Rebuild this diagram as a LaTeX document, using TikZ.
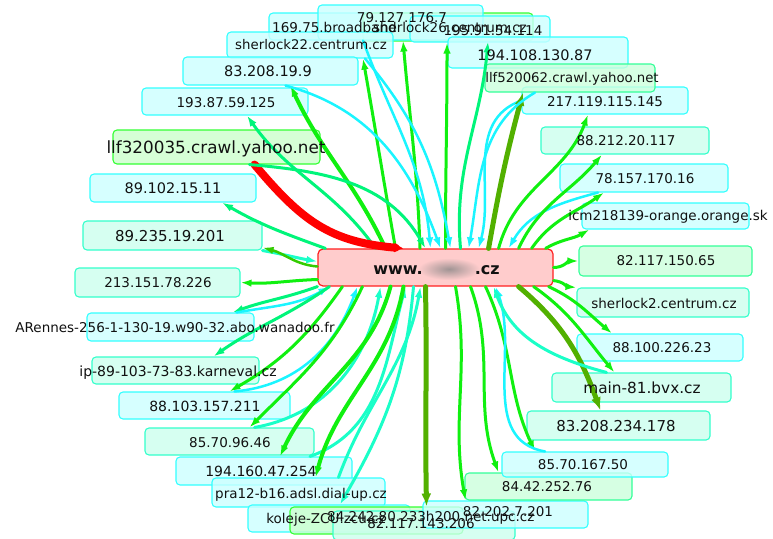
\documentclass[tikz,border=0pt]{standalone}
\usepackage{fontspec}
\setmainfont{DejaVu Sans}
\usetikzlibrary{arrows.meta,fit}
\definecolor{cyB}{HTML}{33FFFF}
\definecolor{cyF}{HTML}{CCFFFF}
\definecolor{aqB}{HTML}{33FFCC}
\definecolor{aqF}{HTML}{CCFFEE}
\definecolor{grB}{HTML}{33FF33}
\definecolor{grF}{HTML}{CCFFCC}
\definecolor{gaB}{HTML}{33FF99}
\definecolor{gaF}{HTML}{CCFFDD}
\definecolor{rdB}{HTML}{FF2020}
\definecolor{rdF}{HTML}{FFCCCC}
\definecolor{blurC}{HTML}{A09494}
\definecolor{txt}{HTML}{111111}
\definecolor{eG}{HTML}{10F010}
\definecolor{eS}{HTML}{00F57A}
\definecolor{eA}{HTML}{1AFFC8}
\definecolor{eC}{HTML}{1AF5FF}
\definecolor{eO}{HTML}{52B000}
\definecolor{eO2}{HTML}{33CC00}
\newcommand{\fsz}[1]{\fontsize{#1}{#1}\selectfont}
\begin{document}
\begin{tikzpicture}[x=1pt,y=-1pt,
  bx/.style={rounded corners=4pt, line width=1.1pt, inner sep=0pt, fill opacity=0.8},
  bcy/.style={bx, draw=cyB, fill=cyF},
  baq/.style={bx, draw=aqB, fill=aqF},
  bgr/.style={bx, draw=grB, fill=grF},
  bga/.style={bx, draw=gaB, fill=gaF},
  lbl/.style={inner sep=0pt, text=txt, anchor=base},
  ed/.style={line width=3pt, line cap=round, -{Latex[length=11pt,width=7.5pt]}},
  eg/.style={ed, draw=eG},
  es/.style={ed, draw=eS},
  ea/.style={ed, draw=eA},
  ec/.style={ed, draw=eC, line width=2.5pt},
  eo/.style={ed, draw=eO, line width=5pt, -{Latex[length=13pt,width=10pt]}},
  er/.style={ed, draw=red, line width=8pt, -{Latex[length=9pt,width=10pt]}}
]
\useasboundingbox (0,0) rectangle (773,538);
\fill[white] (0,0) rectangle (773,538);

% outer boxes
\node[bcy, fit={(269,13) (437,40)}] (b169) {};
\node[bgr, fit={(363,13) (533,41)}] (bsh26) {};
\node[bcy, fit={(318,5) (483,40)}] (b79) {};
\node[bcy, fit={(410,16) (550,42)}] (b195) {};
\node[bcy, fit={(448,37) (628,68)}] (b194) {};
\node[bcy, fit={(227,32) (393,58)}] (bsh22) {};
\node[bcy, fit={(183,57) (358,85)}] (b83) {};
\node[bcy, fit={(142,88) (308,115)}] (b193) {};
\node[bgr, fit={(113,130) (320,164)}] (bllf3) {};
\node[bcy, fit={(90,174) (256,202)}] (b89a) {};
\node[baq, fit={(83,221) (262,250)}] (b89b) {};
\node[baq, fit={(75,268) (240,297)}] (b213) {};
\node[bcy, fit={(87,313) (254,341)}] (bAR) {};
\node[baq, fit={(92,357) (259,384)}] (bip) {};
\node[bcy, fit={(119,392) (290,419)}] (b88103) {};
\node[baq, fit={(145,428) (314,455)}] (b8570) {};
\node[bcy, fit={(176,457) (352,485)}] (b194160) {};
\node[bcy, fit={(212,478) (385,507)}] (bpra) {};
\node[bcy, fit={(248,505) (410,532)}] (bkol) {};
\node[bgr, fit={(290,507) (463,534)}] (b84242) {};
\node[baq, fit={(333,511) (515,540)}] (b82117) {};
\node[bcy, fit={(423,501) (588,528)}] (b82202) {};
\node[bga, fit={(465,473) (632,500)}] (b8442) {};
\node[bcy, fit={(502,452) (668,477)}] (b8570b) {};
\node[baq, fit={(527,411) (710,440)}] (b83234) {};
\node[baq, fit={(552,373) (731,402)}] (bmain) {};
\node[bcy, fit={(577,334) (743,361)}] (b88100) {};
\node[baq, fit={(577,288) (749,317)}] (bsh2) {};
\node[bga, fit={(579,246) (752,276)}] (b82150) {};
\node[bcy, fit={(582,203) (749,229)}] (bicm) {};
\node[bcy, fit={(560,164) (728,192)}] (b78) {};
\node[baq, fit={(541,127) (709,154)}] (b88212) {};
\node[bcy, fit={(522,87) (688,114)}] (b217) {};
\node[bga, fit={(485,64) (655,92)}] (bllf5) {};

% centre
\node[rounded corners=5pt, line width=1.2pt, inner sep=0pt, draw=rdB, fill=rdF,
      fit={(318,249) (553,286)}] (bc) {};
\node[shading=radial, inner color=blurC, outer color=rdF, inner sep=0pt,
      minimum width=62pt, minimum height=22pt] (blur) at (449,269) {};

% edges: top
\draw[eg] ([xshift=-15.5pt]bc.north) to[out=92,in=-85] ([xshift=2.5pt]b79.south);
\draw[eg] ([xshift=10pt]bc.north) to[out=90,in=-90] ([xshift=-33pt]b195.south);
\draw[es] ([xshift=25pt]bc.north) to[out=95,in=-95] ([xshift=40pt]bsh26.south);
\draw[eg] ([xshift=-40pt]bc.north) to[out=100,in=-80] ([xshift=53pt]bsh22.south);
\draw[eg, line width=4pt] ([xshift=-50pt]bc.north) to[out=115,in=-65] ([xshift=20pt]b83.south);
\draw[ec] ([xshift=15pt]b83.south) to[out=-15,in=110] ([xshift=5pt]bc.north);
\draw[es] ([xshift=-60pt]bc.north) to[out=125,in=-55] ([xshift=22pt]b193.south);
\draw[er] ([xshift=38pt]bllf3.south) to[out=-50,in=175,looseness=1.1] ([xshift=-32pt]bc.north);
\draw[es] ([xshift=33pt]bllf3.south) to[out=-5,in=120] ([xshift=-10pt]bc.north);
\draw[ec] ([xshift=55pt]bsh22.south) to[out=-50,in=100] ([xshift=15pt]bc.north);
\draw[ec] ([xshift=10pt]b169.south) to[out=-70,in=95] ([xshift=-5pt]bc.north);
% left
\draw[es] ([xshift=8pt]bc.north west) to[out=160,in=-30] ([xshift=49pt]b89a.south);
\draw[ea] (b89b.south east) to[out=-10,in=170] ([yshift=6pt]bc.west);
\draw[ed, draw=eO2, line width=2.5pt] ([yshift=1pt]bc.west) to[out=175,in=-15] ([yshift=3pt]b89b.south east);
\draw[eg] ([yshift=-12pt]bc.west) to[out=182,in=-3] (b213.east);
\draw[es] (bc.south west) to[out=200,in=20] ([xshift=-22pt]bAR.north east);
\draw[ec] ([xshift=-18pt]bAR.north east) to[out=10,in=-150] ([xshift=12pt]bc.south west);
\draw[es] ([xshift=12pt]bc.south west) to[out=215,in=35] ([xshift=38pt]bip.north);
\draw[eg] ([xshift=25pt]bc.south west) to[out=235,in=30] ([xshift=25pt]b88103.north);
\draw[ec] ([xshift=30pt]b88103.north) to[out=5,in=-110] ([xshift=40pt]bc.south west);
\draw[eg] ([xshift=45pt]bc.south west) to[out=245,in=45] ([xshift=20pt]b8570.north);
\draw[ea] ([xshift=25pt]b8570.north) to[out=10,in=-100] ([xshift=-55pt]bc.south);
\draw[eg, line width=4pt] ([xshift=-45pt]bc.south) to[out=255,in=65] ([xshift=16pt]b194160.north);
\draw[ea] ([xshift=46pt]b194160.north) to[out=20,in=-105] ([xshift=-30pt]bc.south);
\draw[eg, line width=4pt] ([xshift=-32pt]bc.south) to[out=260,in=75] ([xshift=17pt]bpra.north);
\draw[ea] ([xshift=-22pt]bc.south) to[out=265,in=60] ([xshift=11pt]bkol.north);
\draw[ea] ([xshift=40pt]bpra.north) to[out=70,in=-100] ([xshift=-15pt]bc.south);
% bottom
\draw[eo] ([xshift=-10pt]bc.south) to[out=-89,in=91] ([xshift=50pt]b84242.north);
\draw[eg] ([xshift=20pt]bc.south) to[out=-80,in=100] ([xshift=-40pt]b82202.north);
\draw[eg] ([xshift=35pt]bc.south) to[out=-70,in=110] ([xshift=-50pt]b8442.north);
\draw[eg] ([xshift=50pt]bc.south) to[out=-65,in=115] ([xshift=-50pt]b8570b.north);
\draw[ec] ([xshift=-40pt]b8570b.north) to[out=170,in=-70] ([xshift=60pt]bc.south);
% right
\draw[eo] ([xshift=-35pt]bc.south east) to[out=-40,in=110] ([xshift=-18pt]b83234.north);
\draw[eg] ([xshift=-20pt]bc.south east) to[out=-35,in=130] ([xshift=-27pt]bmain.north);
\draw[ea] ([xshift=-35pt]bmain.north) to[out=165,in=-70] ([xshift=-60pt]bc.south east);
\draw[eg] ([xshift=-5pt]bc.south east) to[out=-25,in=140] ([xshift=-48pt]b88100.north);
\draw[eg] ([yshift=6pt]bc.south east) to[out=-5,in=175] (bsh2.north west);
\draw[eg] (bc.east) to[out=0,in=180] (b82150.west);
\draw[eg] ([xshift=-8pt]bc.north east) to[out=30,in=210] ([xshift=8pt]bicm.south west);
\draw[eg] ([xshift=-22pt]bc.north east) to[out=55,in=215] ([xshift=-40pt]b78.south);
\draw[ec] ([xshift=-46pt]b78.south) to[out=195,in=60] ([xshift=-45pt]bc.north east);
\draw[eg] ([xshift=-35pt]bc.north east) to[out=65,in=230] ([xshift=-23pt]b88212.south);
\draw[eg] ([xshift=-55pt]bc.north east) to[out=75,in=250] ([xshift=-17pt]b217.south);
\draw[ec] (b217.west) to[out=200,in=75] ([xshift=-75pt]bc.north east);
\draw[eo] ([xshift=-65pt]bc.north east) to[out=80,in=255] ([xshift=-47pt]bllf5.south);
\draw[ec] ([xshift=-35pt]bllf5.south) to[out=210,in=80] ([xshift=-85pt]bc.north east);

% labels
\node[lbl, font=\fsz{13.5}] (t79) at (402,23) {79.127.176.7};
\node[lbl, font=\fsz{13.5}, anchor=base west] (t169) at (272,32) {169.75.broadband};
\node[lbl, font=\fsz{13.5}, anchor=base east] (tsh26) at (527,32) {sherlock26.centrum.cz};
\node[lbl, font=\fsz{13.5}] (t195) at (493,35) {195.91.54.114};
\node[lbl, font=\fsz{14.5}] (t194) at (535,60) {194.108.130.87};
\node[lbl, font=\fsz{13.3}] (tsh22) at (311,49) {sherlock22.centrum.cz};
\node[lbl, font=\fsz{14.5}] (t83) at (268,76) {83.208.19.9};
\node[lbl, font=\fsz{13.5}] (t193) at (226,107) {193.87.59.125};
\node[lbl, font=\fsz{16.8}] (tllf3) at (216,153) {llf320035.crawl.yahoo.net};
\node[lbl, font=\fsz{14.5}] (t89a) at (173,193) {89.102.15.11};
\node[lbl, font=\fsz{15}] (t89b) at (170,241.5) {89.235.19.201};
\node[lbl, font=\fsz{13.5}] (t213) at (158,287) {213.151.78.226};
\node[lbl, font=\fsz{13.5}] (tAR) at (175,332) {ARennes-256-1-130-19.w90-32.abo.wanadoo.fr};
\node[lbl, font=\fsz{14}] (tip) at (178,376) {ip-89-103-73-83.karneval.cz};
\node[lbl, font=\fsz{14}] (t88103) at (205,411) {88.103.157.211};
\node[lbl, font=\fsz{13.5}] (t8570) at (230,447) {85.70.96.46};
\node[lbl, font=\fsz{14}] (t194160) at (261,476) {194.160.47.254};
\node[lbl, font=\fsz{13.5}] (tpra) at (301,498) {pra12-b16.adsl.dial-up.cz};
\node[lbl, font=\fsz{13.5}] (tkol) at (326,523) {koleje-ZCU.zcu.cz};
\node[lbl, font=\fsz{13.5}, anchor=base west] (t84242) at (327,521) {84.242.80.233h200.net.upc.cz};
\node[lbl, font=\fsz{13.5}] (t82117) at (421,528) {82.117.143.206};
\node[lbl, font=\fsz{13.5}] (t82202) at (508,516) {82.202.7.201};
\node[lbl, font=\fsz{13.5}] (t8442) at (547,491) {84.42.252.76};
\node[lbl, font=\fsz{13.5}] (t8570b) at (583,469) {85.70.167.50};
\node[lbl, font=\fsz{15}] (t83234) at (616,431.5) {83.208.234.178};
\node[lbl, font=\fsz{15.3}] (tmain) at (642,393.5) {main-81.bvx.cz};
\node[lbl, font=\fsz{13.5}] (t88100) at (662,352) {88.100.226.23};
\node[lbl, font=\fsz{13.5}] (tsh2) at (664,308) {sherlock2.centrum.cz};
\node[lbl, font=\fsz{13.5}] (t82150) at (666,265) {82.117.150.65};
\node[lbl, font=\fsz{13.5}] (ticm) at (668,220) {icm218139-orange.orange.sk};
\node[lbl, font=\fsz{13.5}] (t78) at (645,183) {78.157.170.16};
\node[lbl, font=\fsz{13.5}] (t88212) at (626,145) {88.212.20.117};
\node[lbl, font=\fsz{13.5}] (t217) at (605,106) {217.119.115.145};
\node[lbl, font=\fsz{13.3}] (tllf5) at (572,82) {llf520062.crawl.yahoo.net};
\node[lbl, font=\bfseries\fsz{16}] (tc) at (436.5,274) {www.\hspace{52pt}.cz};
\end{tikzpicture}
\end{document}
